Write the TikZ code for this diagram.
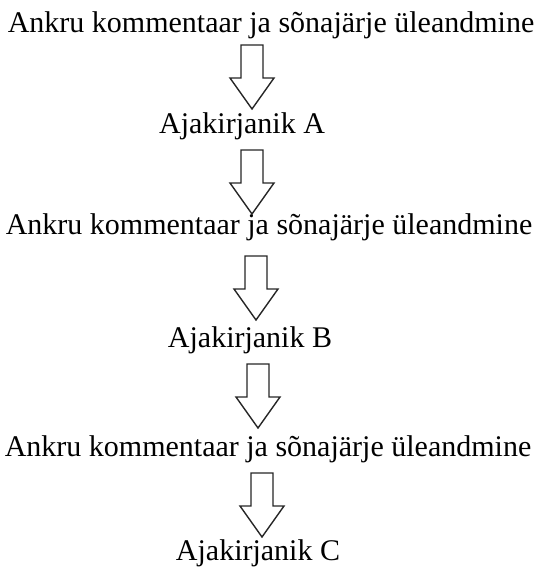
\documentclass[tikz,border=0pt]{standalone}
\usepackage{fontspec}
\setmainfont{Liberation Serif}
\tikzset{
  lbl/.style={anchor=base, inner sep=0pt, font=\fontsize{30}{32}\selectfont, text=black},
  arrowline/.style={draw=black!85, line width=1.4pt, line join=miter, fill=white},
  blockarrow/.pic={
    \path[arrowline] (-11,0) -- (-11,33) -- (-22,33) -- (0,64) -- (22,33) -- (11,33) -- (11,0) -- cycle;
  }
}
\begin{document}
\begin{tikzpicture}[x=1pt, y=-1pt]
\useasboundingbox (0,0) rectangle (542,567);
\node[lbl] (t1) at (271,33) {Ankru kommentaar ja sõnajärje üleandmine};
\node[lbl] (t2) at (242,133) {Ajakirjanik A};
\node[lbl] (t3) at (269,234) {Ankru kommentaar ja sõnajärje üleandmine};
\node[lbl] (t4) at (250,347) {Ajakirjanik B};
\node[lbl] (t5) at (268,456) {Ankru kommentaar ja sõnajärje üleandmine};
\node[lbl] (t6) at (258,560) {Ajakirjanik C};
\coordinate (a1) at (252,45);
\coordinate (a2) at (252,150);
\coordinate (a3) at (256,256);
\coordinate (a4) at (258,364);
\coordinate (a5) at (262,473);
\foreach \c in {a1,a2,a3,a4,a5} { \pic at (\c) {blockarrow}; }
\end{tikzpicture}
\end{document}
